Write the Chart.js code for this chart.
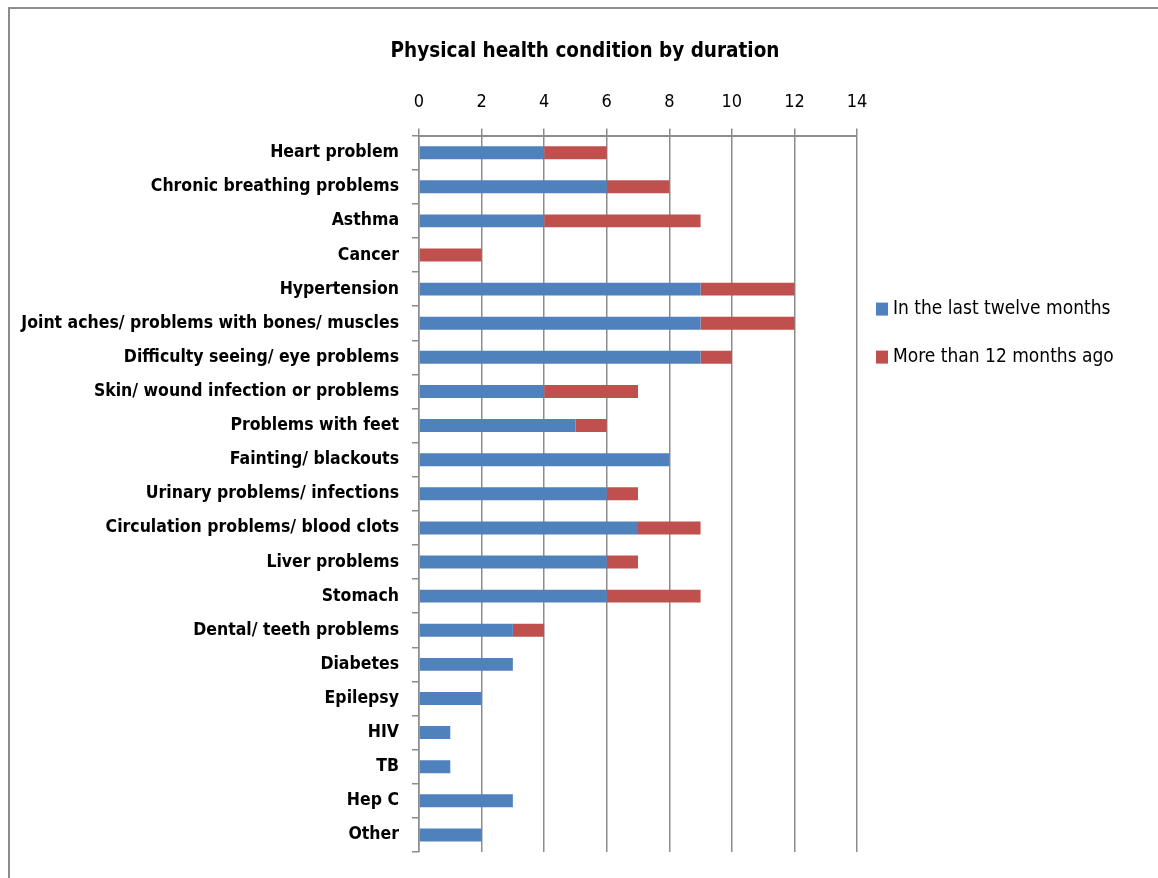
<!DOCTYPE html>
<html>
<head>
<meta charset="utf-8">
<script src="https://cdn.jsdelivr.net/npm/chart.js@4"></script>
<style>
    body { margin: 0; background: #fff; }
    #frame { position: absolute; left: 8px; top: 7px; width: 1200px; height: 1000px; border: 2px solid #8c8c8c; }
    #wrap { position: absolute; left: 0; top: 0; width: 1158px; height: 878px; }
</style>
</head>
<body>
<div id="frame"></div>
<div id="wrap"><canvas id="healthChart" width="1158" height="878"></canvas></div>
<script>
var conditions = [
    'Heart problem', 'Chronic breathing problems', 'Asthma', 'Cancer', 'Hypertension',
    'Joint aches/ problems with bones/ muscles', 'Difficulty seeing/ eye problems',
    'Skin/ wound infection or problems', 'Problems with feet', 'Fainting/ blackouts',
    'Urinary problems/ infections', 'Circulation problems/ blood clots', 'Liver problems',
    'Stomach', 'Dental/ teeth problems', 'Diabetes', 'Epilepsy', 'HIV', 'TB', 'Hep C', 'Other'
];
var last_twelve = [4, 6, 4, 0, 9, 9, 9, 4, 5, 8, 6, 7, 6, 6, 3, 3, 2, 1, 1, 3, 2];
var over_twelve = [2, 2, 5, 2, 3, 3, 1, 3, 1, 0, 1, 2, 1, 3, 1, 0, 0, 0, 0, 0, 0];
var x_ticks = [0, 2, 4, 6, 8, 10, 12, 14];

var FONT = "'DejaVu Sans Condensed', 'DejaVu Sans', sans-serif";

// legend drawn to the right of the plot, like the original
var sideLegend = {
    id: 'sideLegend',
    afterDraw: function (chart) {
        var ctx = chart.ctx;
        var area = chart.chartArea;
        ctx.save();
        ctx.font = '19px ' + FONT;
        ctx.textBaseline = 'middle';
        chart.data.datasets.forEach(function (ds, i) {
            var y = area.top + 173 + i * 48;
            ctx.fillStyle = ds.backgroundColor;
            ctx.fillRect(area.right + 19, y - 6, 12, 13);
            ctx.fillStyle = '#000';
            ctx.fillText(ds.label, area.right + 36, y);
        });
        ctx.restore();
    }
};

var ctx = document.getElementById('healthChart');
var healthChart = new Chart(ctx, {
    type: 'bar',
    data: {
        labels: conditions,
        datasets: [{
            label: 'In the last twelve months',
            data: last_twelve,
            backgroundColor: '#4f81bd',
            barPercentage: 0.38,
            categoryPercentage: 1
        }, {
            label: 'More than 12 months ago',
            data: over_twelve,
            backgroundColor: '#c0504d',
            barPercentage: 0.38,
            categoryPercentage: 1
        }]
    },
    options: {
        indexAxis: 'y',
        responsive: false,
        animation: false,
        layout: { padding: { left: 12, right: 0, top: 0, bottom: 26 } },
        plugins: {
            legend: { display: false },
            tooltip: { enabled: false },
            title: {
                display: true,
                text: 'Physical health condition by duration',
                color: '#000',
                font: { family: FONT, size: 20.5, weight: 'bold' },
                padding: { top: 39, bottom: 11 }
            }
        },
        scales: {
            x: {
                position: 'top',
                stacked: true,
                min: 0,
                max: 14,
                afterBuildTicks: function (axis) {
                    axis.ticks = x_ticks.map(function (v) { return { value: v }; });
                },
                afterFit: function (axis) { axis.height = 61; },
                border: { color: '#8c8c8c', width: 2 },
                grid: { color: '#8c8c8c', lineWidth: 1.5, tickLength: 7 },
                ticks: { color: '#000', padding: 15, font: { family: FONT, size: 18 } }
            },
            y: {
                stacked: true,
                afterFit: function (axis) { axis.width = 407; },
                border: { color: '#8c8c8c', width: 1.5 },
                grid: { color: '#8c8c8c', lineWidth: 1.5, drawOnChartArea: false, tickLength: 7 },
                ticks: { color: '#000', padding: 13, font: { family: FONT, size: 17.5, weight: 'bold' } }
            },
            // empty space on the right where the legend sits
            legendSpace: {
                type: 'linear',
                position: 'right',
                afterFit: function (axis) { axis.width = 301; },
                ticks: { display: false },
                grid: { display: false },
                border: { display: false }
            }
        }
    },
    plugins: [sideLegend]
});
</script>
</body>
</html>
